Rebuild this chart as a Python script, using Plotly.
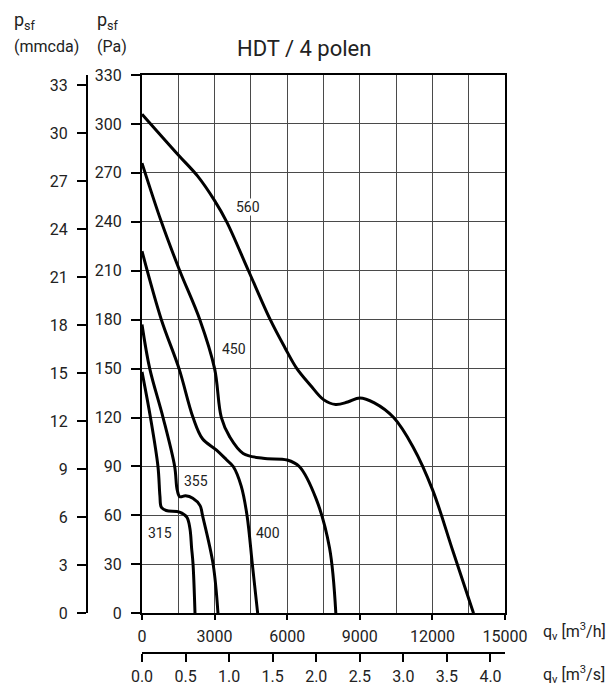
import plotly.graph_objects as go

# fan curves HDT / 4 polen: airflow in m3/h, pressure in Pa
q_315 = [0, 350, 660, 740, 800, 1000, 1550, 1850, 1980, 2050, 2110, 2190]
p_315 = [148, 120, 90, 72, 65, 63, 62, 59, 52, 40, 30, 0]

q_355 = [0, 320, 870, 1350, 1450, 1560, 1800, 2100, 2400, 2500, 2940, 3140]
p_355 = [177, 150, 120, 90, 76, 71.5, 72, 70.5, 66, 60, 30, 0]

q_400 = [0, 800, 1530, 2110, 2500, 3080, 3500, 3770, 4100, 4340, 4560, 4780]
p_400 = [222, 180, 150, 120, 107, 100, 94, 90, 78, 60, 30, 0]

q_450 = [0, 800, 1560, 2390, 3000, 3280, 3630, 4180, 5000, 6000, 6500, 7200, 7750, 8010]
p_450 = [276, 240, 210, 180, 150, 120, 108, 98, 95, 94, 90, 70, 40, 0]

q_560 = [0, 1500, 2300, 3000, 3500, 4400, 5300, 5900, 6400, 6950, 7500, 8000,
         8500, 9000, 9600, 10400, 11200, 12000, 12850, 13700]
p_560 = [306, 281, 268, 253, 240, 210, 180, 163, 150, 140, 131, 128,
         129.5, 132, 129, 120, 102, 76, 38, 0]

curves = [('315', q_315, p_315), ('355', q_355, p_355), ('400', q_400, p_400),
          ('450', q_450, p_450), ('560', q_560, p_560)]

# where the size label of each curve sits
label_names = ['560', '450', '355', '315', '400']
label_q = [4380, 3800, 2250, 730, 5210]
label_p = [249, 162, 81, 49, 49]

pa_ticks = list(range(0, 331, 30))
mm_ticks = list(range(0, 34, 3))
qh_ticks = list(range(0, 15001, 3000))
qs_ticks = [0.0, 0.5, 1.0, 1.5, 2.0, 2.5, 3.0, 3.5, 4.0]

W, H = 616, 685
OFF = 8  # the page body margin moves the figure by 8 px
ML, MR, MT, MB = 52, 119, 67, 40
PW = W - ML - MR
PH = H - MT - MB


def px(x):
    return (x - OFF - ML) / PW


def py(y):
    return (H - MB - (y - OFF)) / PH


FONT = 'Roboto'
fig = go.Figure()

for name, q, p in curves:
    fig.add_trace(go.Scatter(x=q, y=p, mode='lines', name=name,
                             line=dict(color='black', width=3, shape='spline', smoothing=1),
                             showlegend=False, hoverinfo='skip'))

# empty traces so the extra axes are drawn
fig.add_trace(go.Scatter(x=[None], y=[None], xaxis='x', yaxis='y2', showlegend=False))
fig.add_trace(go.Scatter(x=[None], y=[None], xaxis='x2', yaxis='y', showlegend=False))

x0 = px(142)
y0 = py(613.3)

fig.update_layout(
    width=W, height=H,
    margin=dict(l=ML, r=MR, t=MT, b=MB, autoexpand=False),
    paper_bgcolor='white', plot_bgcolor='white',
    font=dict(family=FONT, size=16, color='#222'),
    xaxis=dict(domain=[x0, 1], range=[0, 15000], tickvals=qh_ticks,
               ticktext=[str(v) for v in qh_ticks], automargin=False,
               showgrid=True, gridcolor='#4a4a4a', gridwidth=1,
               minor=dict(dtick=1500, showgrid=True, gridcolor='#4a4a4a', gridwidth=1),
               showline=True, linecolor='black', linewidth=2, mirror=True,
               ticks='outside', ticklen=5, tickwidth=2, tickcolor='black',
               ticklabelstandoff=2, zeroline=False, anchor='y'),
    yaxis=dict(domain=[y0, 1], range=[0, 330], tickvals=pa_ticks, automargin=False,
               showgrid=True, gridcolor='#4a4a4a', gridwidth=1,
               showline=True, linecolor='black', linewidth=2, mirror=True,
               ticks='outside', ticklen=9, tickwidth=2, tickcolor='black',
               ticklabelstandoff=6, zeroline=False, anchor='x'),
    yaxis2=dict(domain=[y0, 1], range=[0, 330 / 9.80665], tickvals=mm_ticks,
                overlaying='y', anchor='free', position=px(87), side='left',
                automargin=False, showgrid=False, zeroline=False,
                showline=True, linecolor='black', linewidth=2,
                ticks='outside', ticklen=9, tickwidth=2, tickcolor='black',
                ticklabelstandoff=6),
    xaxis2=dict(domain=[x0, 1], range=[0, 15000 / 3600], tickvals=qs_ticks,
                tickformat='.1f', overlaying='x', anchor='free', position=0, side='bottom',
                automargin=False, showgrid=False, zeroline=False,
                showline=True, linecolor='black', linewidth=2,
                ticks='outside', ticklen=8, tickwidth=2, tickcolor='black',
                ticklabelstandoff=1),
)

for name, q, p in zip(label_names, label_q, label_p):
    fig.add_annotation(x=q, y=p, text=name, showarrow=False,
                       font=dict(family=FONT, size=14, color='#222'),
                       bgcolor='white', borderpad=0)

texts = [
    ('p<sub>sf</sub>', 12, 21, 18, 'left'),
    ('(mmcda)', 12, 46, 16, 'left'),
    ('p<sub>sf</sub>', 95, 21, 18, 'left'),
    ('(Pa)', 95, 46, 16, 'left'),
    ('HDT / 4 polen', 304, 48, 22, 'center'),
    ('q<sub>v</sub> [m<sup>3</sup>/h]', 541, 631, 16, 'left'),
    ('q<sub>v</sub> [m<sup>3</sup>/s]', 541, 674, 16, 'left'),
]
for t, x, y, s, anchor in texts:
    fig.add_annotation(x=px(x), y=py(y), xref='paper', yref='paper', text=t,
                       showarrow=False, xanchor=anchor, yanchor='middle',
                       font=dict(family=FONT, size=s, color='#222'))

fig.write_html('out.html')
